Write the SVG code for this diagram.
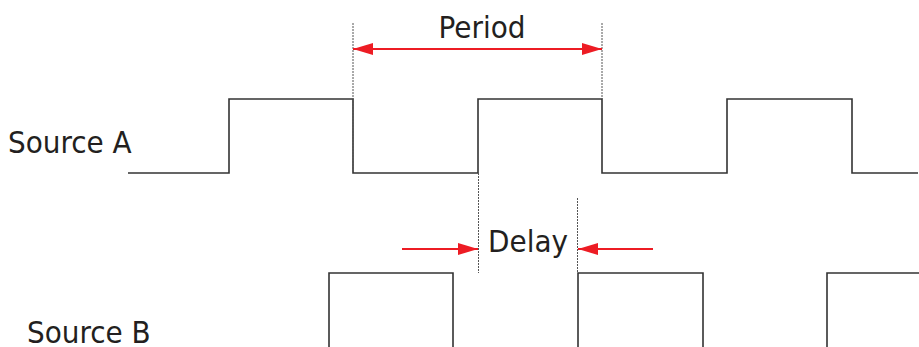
<svg xmlns="http://www.w3.org/2000/svg" width="919" height="347" viewBox="0 0 919 347">
<style>
.wave{fill:none;stroke:#333;stroke-width:1.6}
.guide{fill:none;stroke:#555;stroke-width:1;stroke-dasharray:2,1}
.arr{fill:none;stroke:#ed1c24;stroke-width:2}
.lbl{font-family:"DejaVu Sans Condensed","DejaVu Sans",sans-serif;font-size:31px;fill:#231f20}
</style>
<defs>
<marker id="ah" viewBox="0 0 20 12" refX="20" refY="6" markerWidth="20" markerHeight="12" markerUnits="userSpaceOnUse" orient="auto-start-reverse">
<path d="M0,0 L20,6 L0,12 Z" fill="#ed1c24"/>
</marker>
</defs>
<g id="labels">
<text class="lbl" x="8" y="153">Source A</text>
<text class="lbl" x="27" y="343">Source B</text>
</g>
<g id="sourceA">
<path class="wave" d="M128,173 H229 V99 H353 V173 H478 V99 H602 V173 H727 V99 H852 V173 H918"/>
</g>
<g id="sourceB">
<path class="wave" d="M329,348 V273 H453 V348 M578,348 V273 H703 V348 M827,348 V273 H919"/>
</g>
<g id="connectors">
<line class="guide" x1="353" y1="23" x2="353" y2="173"/>
<line class="guide" x1="602" y1="23" x2="602" y2="99"/>
<line class="guide" x1="478.5" y1="173" x2="478.5" y2="273"/>
<line class="guide" x1="577.5" y1="198" x2="577.5" y2="273"/>
<line class="arr" x1="353" y1="49" x2="602" y2="49" marker-start="url(#ah)" marker-end="url(#ah)"/>
<line class="arr" x1="402" y1="249" x2="478" y2="249" marker-end="url(#ah)"/>
<line class="arr" x1="653" y1="249" x2="578" y2="249" marker-end="url(#ah)"/>
</g>
<g id="period">
<text class="lbl" x="482" y="38" text-anchor="middle">Period</text>
</g>
<g id="delay">
<text class="lbl" x="528" y="252" text-anchor="middle">Delay</text>
</g>
</svg>
